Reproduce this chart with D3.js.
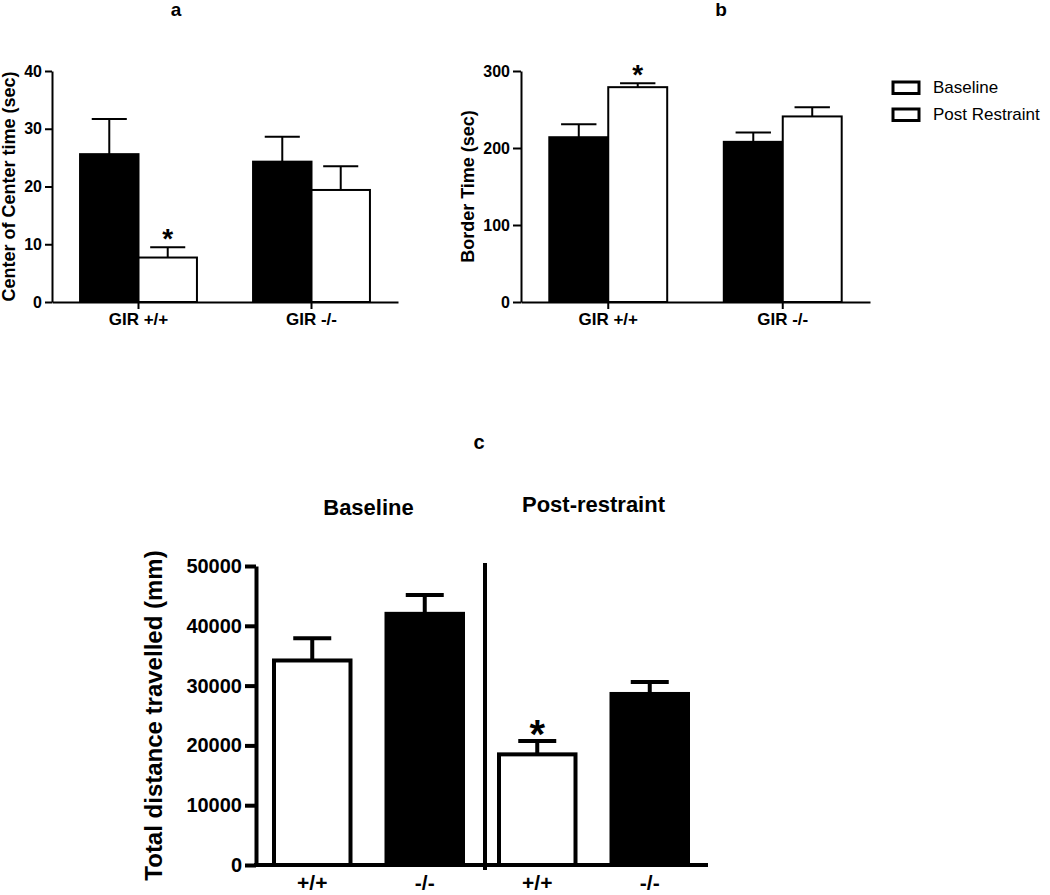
<!DOCTYPE html>
<html>
<head>
<meta charset="utf-8">
<script src="https://cdn.jsdelivr.net/npm/d3@7/dist/d3.min.js"></script>
<style>
  html, body { margin: 0; padding: 0; background: #fff; }
  svg { display: block; }
  text { font-family: "Liberation Sans", Arial, Helvetica, sans-serif; fill: #000; }
</style>
</head>
<body>
<svg id="chart" width="1050" height="895"></svg>
<script>
// ---------------- DATA ----------------
const seriesNames = ["Baseline", "Post Restraint"];
const genotypeGroups = ["GIR +/+", "GIR -/-"];

// Panel a: Center of Center time (sec)
const centerBaseline = [25.6, 24.3];
const centerBaselineSEM = [6.1, 4.3];
const centerPost = [7.7, 19.4];
const centerPostSEM = [1.8, 4.1];
const centerTicks = [0, 10, 20, 30, 40];

// Panel b: Border Time (sec)
const borderBaseline = [214, 208];
const borderBaselineSEM = [17, 12];
const borderPost = [279, 241];
const borderPostSEM = [5, 12];
const borderTicks = [0, 100, 200, 300];

// Panel c: Total distance travelled (mm)
const distCategories = ["Baseline +/+", "Baseline -/-", "Post +/+", "Post -/-"];
const distLabels = ["+/+", "-/-", "+/+", "-/-"];
const distConditions = ["Baseline", "Baseline", "Post-restraint", "Post-restraint"];
const distValues = [34200, 42000, 18500, 28600];
const distSEM = [3700, 3150, 2250, 2000];
const distFill = ["white", "black", "white", "black"];
const distTicks = [0, 10000, 20000, 30000, 40000, 50000];

// significance marks
const sigA = [{ group: 0, series: 1 }];
const sigB = [{ group: 0, series: 1 }];
const sigC = [2];

// ---------------- DRAW ----------------
const svg = d3.select("#chart");
svg.append("rect").attr("width", 1050).attr("height", 895).attr("fill", "#fff");

function groupedPanel(opts) {
  const g = svg.append("g");
  const x = d3.scaleBand().domain(genotypeGroups).range([opts.x0, opts.x1]).padding(0);
  const xs = d3.scaleBand().domain(seriesNames).range([0, x.bandwidth()])
    .paddingInner(0).paddingOuter(0.48);
  const y = d3.scaleLinear().domain([0, opts.max]).range([302, 71]);

  const data = [];
  genotypeGroups.forEach((gr, i) => {
    data.push({ group: gr, gi: i, series: seriesNames[0], si: 0, v: opts.base[i], e: opts.baseSEM[i] });
    data.push({ group: gr, gi: i, series: seriesNames[1], si: 1, v: opts.post[i], e: opts.postSEM[i] });
  });

  const bw = xs.bandwidth();
  const cap = bw * 0.6;

  const eb = g.append("g").attr("stroke", "#000").attr("stroke-width", 2).attr("fill", "none");
  data.forEach(d => {
    const cx = x(d.group) + xs(d.series) + bw / 2;
    eb.append("line").attr("x1", cx).attr("x2", cx).attr("y1", y(d.v)).attr("y2", y(d.v + d.e));
    eb.append("line").attr("x1", cx - cap / 2).attr("x2", cx + cap / 2)
      .attr("y1", y(d.v + d.e)).attr("y2", y(d.v + d.e));
  });

  g.append("g").selectAll("rect").data(data).join("rect")
    .attr("x", d => x(d.group) + xs(d.series))
    .attr("y", d => y(d.v))
    .attr("width", bw)
    .attr("height", d => y(0) - y(d.v))
    .attr("fill", d => d.si === 0 ? "#000" : "#fff")
    .attr("stroke", "#000")
    .attr("stroke-width", 2);

  const ya = g.append("g").attr("transform", `translate(${opts.x0},0)`)
    .call(d3.axisLeft(y).tickValues(opts.ticks).tickSize(opts.tickLen).tickSizeOuter(0).tickPadding(3));
  const xa = g.append("g").attr("transform", `translate(0,${y(0)})`)
    .call(d3.axisBottom(x).tickSize(7).tickSizeOuter(0).tickPadding(4));
  [ya, xa].forEach(a => {
    a.select(".domain").attr("stroke", "#000").attr("stroke-width", 2);
    a.selectAll(".tick line").attr("stroke", "#000").attr("stroke-width", 2);
    a.selectAll(".tick text").attr("font-size", 16).attr("font-weight", "bold")
      .attr("font-family", "Liberation Sans, Arial, sans-serif").attr("fill", "#000");
  });
  xa.selectAll(".tick text").attr("font-size", 17);

  g.append("text")
    .attr("transform", `translate(${opts.labelX},${(y(0) + y(opts.max)) / 2}) rotate(-90)`)
    .attr("text-anchor", "middle").attr("font-size", 18).attr("font-weight", "bold")
    .text(opts.label);

  g.append("text").attr("x", opts.titleX).attr("y", opts.titleY).attr("text-anchor", "middle")
    .attr("font-size", 19).attr("font-weight", "bold").text(opts.title);

  opts.sig.forEach(s => {
    const d = data.find(dd => dd.gi === s.group && dd.si === s.series);
    const cx = x(d.group) + xs(d.series) + bw / 2;
    const top = y(d.v + d.e);
    g.append("text").attr("x", cx).attr("y", top - 15 + 0.57 * 28)
      .attr("text-anchor", "middle").attr("font-size", 28).attr("font-weight", "bold").text("*");
  });
}

groupedPanel({
  x0: 52, x1: 398, max: 40, ticks: centerTicks, tickLen: 7,
  base: centerBaseline, baseSEM: centerBaselineSEM, post: centerPost, postSEM: centerPostSEM,
  label: "Center of Center time (sec)", labelX: 14.5, title: "a", titleX: 176, titleY: 16, sig: sigA
});

groupedPanel({
  x0: 521, x1: 870, max: 300, ticks: borderTicks, tickLen: 8,
  base: borderBaseline, baseSEM: borderBaselineSEM, post: borderPost, postSEM: borderPostSEM,
  label: "Border Time (sec)", labelX: 473.5, title: "b", titleX: 721, titleY: 16, sig: sigB
});

// legend
const leg = svg.append("g");
seriesNames.forEach((s, i) => {
  leg.append("rect").attr("x", 893).attr("y", 82 + i * 27).attr("width", 26).attr("height", 11.5)
    .attr("fill", "#fff").attr("stroke", "#000").attr("stroke-width", 3);
  leg.append("text").attr("x", 933).attr("y", 93 + i * 27).attr("font-size", 17).text(s);
});

// ---------------- Panel c ----------------
(function () {
  const g = svg.append("g");
  const x0 = 256, x1 = 706;
  const x = d3.scaleBand().domain(distCategories).range([x0, x1]).paddingInner(0.32).paddingOuter(0.16);
  const y = d3.scaleLinear().domain([0, 50000]).range([865, 566]);
  const bw = x.bandwidth();
  const cap = 38;

  const eb = g.append("g").attr("stroke", "#000").attr("stroke-width", 4).attr("fill", "none");
  distCategories.forEach((c, i) => {
    const cx = x(c) + bw / 2;
    const top = y(distValues[i] + distSEM[i]);
    eb.append("line").attr("x1", cx).attr("x2", cx).attr("y1", y(distValues[i])).attr("y2", top);
    eb.append("line").attr("x1", cx - cap / 2).attr("x2", cx + cap / 2).attr("y1", top).attr("y2", top);
  });

  g.append("g").selectAll("rect").data(distCategories).join("rect")
    .attr("x", c => x(c))
    .attr("y", (c, i) => y(distValues[i]))
    .attr("width", bw)
    .attr("height", (c, i) => y(0) - y(distValues[i]))
    .attr("fill", (c, i) => distFill[i])
    .attr("stroke", "#000").attr("stroke-width", 4);

  const ya = g.append("g").attr("transform", `translate(${x0},0)`)
    .call(d3.axisLeft(y).tickValues(distTicks).tickFormat(d3.format("d")).tickSize(11).tickSizeOuter(0).tickPadding(3));
  ya.select(".domain").attr("stroke", "#000").attr("stroke-width", 4);
  ya.selectAll(".tick line").attr("stroke", "#000").attr("stroke-width", 4);
  ya.selectAll(".tick text").attr("font-size", 20).attr("font-weight", "bold")
    .attr("font-family", "Liberation Sans, Arial, sans-serif").attr("fill", "#000");

  const xa = g.append("g").attr("transform", `translate(0,${y(0)})`)
    .call(d3.axisBottom(x).tickSize(0).tickSizeOuter(0).tickPadding(10).tickFormat((c, i) => distLabels[i]));
  xa.select(".domain").attr("stroke", "#000").attr("stroke-width", 4)
    .attr("d", `M${x0 - 2},0H${x1 + 2}`);
  xa.selectAll(".tick text").attr("font-size", 21).attr("font-weight", "bold")
    .attr("font-family", "Liberation Sans, Arial, sans-serif").attr("fill", "#000");

  const divX = (x(distCategories[1]) + bw + x(distCategories[2])) / 2 + 4;
  g.append("line").attr("x1", divX).attr("x2", divX).attr("y1", y(50000) - 3).attr("y2", y(0) + 5)
    .attr("stroke", "#000").attr("stroke-width", 4);

  const conds = Array.from(new Set(distConditions));
  conds.forEach(cn => {
    const idx = distConditions.map((d, i) => d === cn ? i : -1).filter(i => i >= 0);
    const cx = d3.mean(idx, i => x(distCategories[i]) + bw / 2);
    g.append("text").attr("x", cx).attr("y", cn === "Baseline" ? 515 : 512).attr("text-anchor", "middle")
      .attr("font-size", 22).attr("font-weight", "bold").text(cn);
  });

  g.append("text")
    .attr("transform", `translate(162,${(y(0) + y(50000)) / 2}) rotate(-90)`)
    .attr("text-anchor", "middle").attr("font-size", 24).attr("font-weight", "bold")
    .text("Total distance travelled (mm)");

  g.append("text").attr("x", 479).attr("y", 449).attr("text-anchor", "middle")
    .attr("font-size", 20).attr("font-weight", "bold").text("c");

  sigC.forEach(i => {
    const cx = x(distCategories[i]) + bw / 2;
    const top = y(distValues[i] + distSEM[i]);
    g.append("text").attr("x", cx).attr("y", top - 16 + 0.57 * 40)
      .attr("text-anchor", "middle").attr("font-size", 40).attr("font-weight", "bold").text("*");
  });
})();
</script>
</body>
</html>
